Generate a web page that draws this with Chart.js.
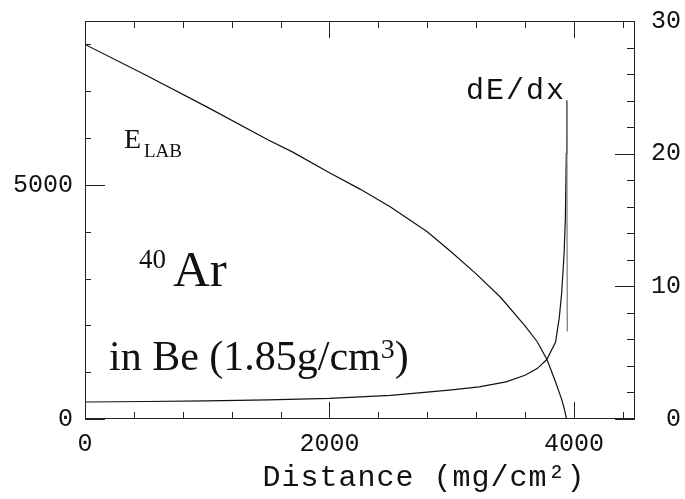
<!DOCTYPE html>
<html>
<head>
<meta charset="utf-8">
<script src="https://cdn.jsdelivr.net/npm/chart.js@4.4.1/dist/chart.umd.min.js"></script>
<style>
  body { margin: 0; background: #fff; }
  canvas { display: block; }
</style>
</head>
<body>
<canvas id="chart" width="685" height="499"></canvas>
<script>
// E_LAB (MeV) vs distance (mg/cm2)
let energyDist = [0, 500, 1000, 1500, 1700, 2000, 2250, 2500, 2800, 3000, 3200, 3400, 3600, 3700, 3780, 3850, 3900, 3920, 3940];
let energy = [8000, 7340, 6660, 5960, 5700, 5260, 4910, 4530, 4000, 3560, 3100, 2600, 1990, 1650, 1270, 790, 420, 230, 0];

// dE/dx (right axis)
let dedxDist = [0, 500, 1000, 1500, 2000, 2500, 2800, 3000, 3225, 3445, 3600, 3700, 3780, 3850, 3880, 3900, 3920, 3930, 3938, 3942, 3946];
let dedx = [1.28, 1.32, 1.37, 1.44, 1.55, 1.78, 2.02, 2.2, 2.42, 2.8, 3.3, 3.8, 4.5, 5.8, 7.6, 9.5, 12.5, 15, 20, 24, 6.6];

// tick labels
let xLabels = [0, 2000, 4000];
let yLabels = [0, 5000];
let y2Labels = [0, 10, 20, 30];

// tick marks (minor step, major step)
let xTickStep = 400, xMajor = 2000;
let yTickStep = 1000, yMajor = 5000;
let y2TickStep = 2, y2Major = 10;

let mono = "'Liberation Mono', monospace";
let serif = "'Liberation Serif', serif";

function toPoints(xs, ys) {
  return xs.map((x, i) => ({ x: x, y: ys[i] }));
}

function setTicks(values) {
  return function (scale) {
    scale.ticks = values.map((v) => ({ value: v }));
  };
}

// fixed box sizes so the plot area sits where the reference has it
function fixWidth(w) {
  return function (s) {
    s.width = w;
    s.paddingTop = 0;
    s.paddingBottom = 0;
  };
}

let plain = (v) => String(v);

let framePlugin = {
  id: "frame",
  afterDatasetsDraw(chart) {
    const { ctx, chartArea: a, scales } = chart;
    ctx.save();
    ctx.strokeStyle = "#222";
    ctx.lineWidth = 1;
    ctx.strokeRect(a.left + 0.5, a.top + 0.5, a.right - a.left - 1, a.bottom - a.top - 1);
    ctx.beginPath();
    // bottom and top
    for (let v = 0; v <= scales.x.max; v += xTickStep) {
      const px = Math.round(scales.x.getPixelForValue(v)) + 0.5;
      const len = v % xMajor === 0 ? 17 : 7;
      ctx.moveTo(px, a.bottom);
      ctx.lineTo(px, a.bottom - len);
      ctx.moveTo(px, a.top);
      ctx.lineTo(px, a.top + len);
    }
    // left
    for (let v = 0; v <= scales.y.max; v += yTickStep) {
      const py = Math.round(scales.y.getPixelForValue(v)) + 0.5;
      const len = v % yMajor === 0 ? 20 : 6;
      ctx.moveTo(a.left, py);
      ctx.lineTo(a.left + len, py);
    }
    // right
    for (let v = 0; v <= scales.y2.max; v += y2TickStep) {
      const py = Math.round(scales.y2.getPixelForValue(v)) + 0.5;
      const len = v % y2Major === 0 ? 20 : 8;
      ctx.moveTo(a.right, py);
      ctx.lineTo(a.right - len, py);
    }
    ctx.stroke();
    ctx.restore();
  },
};

let textPlugin = {
  id: "labels",
  afterDraw(chart) {
    const ctx = chart.ctx;
    ctx.save();
    ctx.fillStyle = "#111";
    ctx.textBaseline = "alphabetic";
    ctx.textAlign = "left";

    // E_LAB
    ctx.font = "28px " + serif;
    ctx.fillText("E", 124, 148);
    ctx.font = "19px " + serif;
    ctx.fillText("LAB", 144, 157);

    // 40Ar
    ctx.font = "27px " + serif;
    ctx.fillText("40", 139, 268);
    ctx.font = "51px " + serif;
    ctx.fillText("Ar", 173, 286);

    // in Be (1.85g/cm3)
    ctx.font = "42px " + serif;
    let s1 = "in Be (1.85g/cm";
    ctx.fillText(s1, 109, 370);
    let w1 = ctx.measureText(s1).width;
    ctx.font = "28px " + serif;
    ctx.fillText("3", 109 + w1, 358);
    let w2 = ctx.measureText("3").width;
    ctx.font = "42px " + serif;
    ctx.fillText(")", 109 + w1 + w2, 370);

    // dE/dx
    ctx.letterSpacing = "2px";
    ctx.font = "30px " + mono;
    ctx.fillText("dE/dx", 466, 99);

    // axis title
    ctx.letterSpacing = "1px";
    ctx.font = "30px " + mono;
    ctx.textAlign = "center";
    ctx.fillText("Distance (mg/cm\u00b2)", 424, 486);
    ctx.restore();
  },
};

new Chart(document.getElementById("chart"), {
  type: "scatter",
  data: {
    datasets: [
      {
        label: "E_LAB",
        data: toPoints(energyDist, energy),
        yAxisID: "y",
        showLine: true,
        borderColor: "#111",
        borderWidth: 1.2,
        pointRadius: 0,
        tension: 0,
      },
      {
        label: "dE/dx",
        data: toPoints(dedxDist, dedx),
        yAxisID: "y2",
        showLine: true,
        borderColor: "#111",
        borderWidth: 1.2,
        pointRadius: 0,
        tension: 0,
        segment: {
          borderColor: (c) => (c.p1DataIndex === dedx.length - 1 ? "#777" : undefined),
        },
      },
    ],
  },
  options: {
    responsive: false,
    devicePixelRatio: 1,
    animation: false,
    layout: { padding: { top: 0, right: 4, bottom: 0, left: 0 } },
    plugins: {
      legend: { display: false },
      tooltip: { enabled: false },
    },
    scales: {
      x: {
        type: "linear",
        position: "bottom",
        min: 0,
        max: 4500,
        grid: { display: false },
        border: { display: false },
        afterBuildTicks: setTicks(xLabels),
        afterFit: (s) => { s.height = 80; },
        ticks: { padding: 2, color: "#111", font: { family: mono, size: 25 }, callback: plain },
      },
      xTop: {
        type: "linear",
        position: "top",
        min: 0,
        max: 4500,
        grid: { display: false },
        border: { display: false },
        ticks: { display: false },
        afterFit: (s) => { s.height = 21; },
      },
      y: {
        type: "linear",
        position: "left",
        min: 0,
        max: 8500,
        grid: { display: false },
        border: { display: false },
        afterBuildTicks: setTicks(yLabels),
        afterFit: fixWidth(85),
        ticks: { padding: 4, color: "#111", font: { family: mono, size: 25 }, callback: plain },
      },
      y2: {
        type: "linear",
        position: "right",
        min: 0,
        max: 30,
        grid: { display: false },
        border: { display: false },
        afterBuildTicks: setTicks(y2Labels),
        afterFit: fixWidth(46),
        ticks: { padding: 12, crossAlign: "far", color: "#111", font: { family: mono, size: 25 }, callback: plain },
      },
    },
  },
  plugins: [framePlugin, textPlugin],
});
</script>
</body>
</html>
